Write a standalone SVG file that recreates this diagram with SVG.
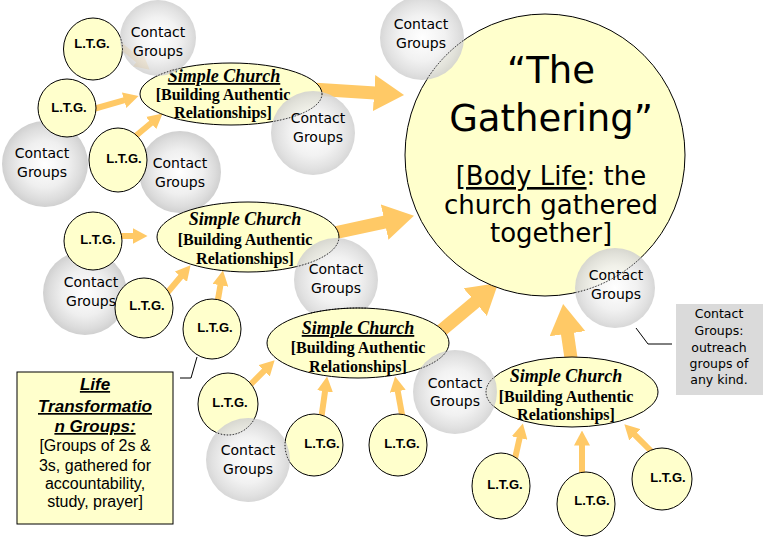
<svg xmlns="http://www.w3.org/2000/svg" width="769" height="544" viewBox="0 0 769 544">
<defs>
<radialGradient id="gray" cx="0.5" cy="0.5" r="0.5">
<stop offset="0" stop-color="#ffffff"/>
<stop offset="0.55" stop-color="#efefef"/>
<stop offset="0.85" stop-color="#dcdcdc"/>
<stop offset="1" stop-color="#d0d0d0"/>
</radialGradient>
<marker id="ahs" markerUnits="userSpaceOnUse" markerWidth="15" markerHeight="16" viewBox="0 0 15 16" refX="0.5" refY="8" orient="auto"><path d="M0,0 L15,8 L0,16 z" fill="#FFC966"/></marker>
<marker id="ahb" markerUnits="userSpaceOnUse" markerWidth="30" markerHeight="36" viewBox="0 0 30 36" refX="1" refY="18" orient="auto"><path d="M0,0 L30,18 L0,36 z" fill="#FFC966"/></marker>
<clipPath id="overClip">
<circle cx="158" cy="38" r="38"/>
<circle cx="313" cy="133" r="42"/>
<circle cx="422" cy="38" r="42"/>
<circle cx="336" cy="280" r="42"/>
<circle cx="615" cy="288" r="40"/>
<circle cx="455" cy="392" r="42"/>
<circle cx="248" cy="460" r="42"/>
</clipPath>
</defs>
<style>
.y{fill:#FFFFCC;stroke:#000;stroke-width:1}
.cg{fill:url(#gray)}
.cgo{fill:url(#gray);opacity:0.85}
.ct{font-family:"DejaVu Sans",sans-serif;font-size:14px;text-anchor:middle;fill:#000}
.lt{font-family:"Liberation Sans",Arial,sans-serif;font-weight:bold;font-size:13px;text-anchor:middle;fill:#000}
.sc{font-family:"Liberation Serif","Times New Roman",serif;font-weight:bold;font-size:16px;text-anchor:middle;fill:#000}
.sct{font-style:italic;font-size:18px}
.u{text-decoration:underline}
.sa{stroke:#FFC966;stroke-width:6;fill:none;marker-end:url(#ahs)}
.ba{stroke:#FFC966;stroke-width:13;fill:none;marker-end:url(#ahb)}
.co{stroke:#000;stroke-width:1;fill:none}
.dot{fill:none;stroke:#000;stroke-width:1;stroke-dasharray:1 2}
.gt{font-family:"DejaVu Sans",sans-serif;text-anchor:middle;fill:#000}
.lg{font-family:"Liberation Sans",Arial,sans-serif;text-anchor:middle;fill:#000}
</style>
<rect width="769" height="544" fill="#fff"/>

<g id="connectors">
<line class="sa" x1="115" y1="41" x2="138.5" y2="60.4"/>
<line class="sa" x1="90" y1="110" x2="124.6" y2="100.1"/>
<line class="sa" x1="132" y1="139" x2="151.5" y2="122.7"/>
<line class="sa" x1="118" y1="236" x2="133" y2="236"/>
<line class="sa" x1="162" y1="299" x2="181.2" y2="276.3"/>
<line class="sa" x1="217" y1="305" x2="220.5" y2="284.8"/>
<line class="sa" x1="246" y1="389" x2="264.4" y2="370.6"/>
<line class="sa" x1="321" y1="420" x2="325.1" y2="390.9"/>
<line class="sa" x1="403" y1="420" x2="397.7" y2="390.8"/>
<line class="sa" x1="514" y1="463" x2="519.7" y2="437.6"/>
<line class="sa" x1="582" y1="477" x2="582" y2="445"/>
<line class="sa" x1="654" y1="454" x2="634.6" y2="434.6"/>
<line class="ba" x1="312" y1="89" x2="375.1" y2="93.1"/>
<line class="ba" x1="325" y1="235" x2="385.6" y2="221.9"/>
<line class="ba" x1="430" y1="340" x2="476" y2="301.5"/>
<line class="ba" x1="572" y1="365" x2="567.3" y2="332.7"/>
<polyline class="co" points="197,357 191,378 180,378"/>
<polyline class="co" points="636,328 648,344 672,344"/>
</g>

<g id="contact2"><circle class="cg" cx="45" cy="164" r="43"/><text class="ct" x="42" y="158">Contact</text><text class="ct" x="42" y="177">Groups</text></g>
<g id="contact3"><circle class="cg" cx="180" cy="172" r="41"/><text class="ct" x="180" y="168">Contact</text><text class="ct" x="180" y="187">Groups</text></g>
<g id="contact6"><circle class="cg" cx="85" cy="293" r="42"/><text class="ct" x="91" y="287">Contact</text><text class="ct" x="91" y="306">Groups</text></g>

<g id="ltg1"><ellipse class="y" cx="93" cy="49" rx="29.5" ry="31"/><text class="lt" x="92" y="48">L.T.G.</text></g>
<g id="ltg2"><ellipse class="y" cx="67" cy="108" rx="29" ry="29"/><text class="lt" x="69" y="112">L.T.G.</text></g>
<g id="ltg3"><ellipse class="y" cx="118" cy="160" rx="29" ry="32"/><text class="lt" x="124" y="163">L.T.G.</text></g>
<g id="ltg4"><ellipse class="y" cx="93" cy="241" rx="29" ry="29"/><text class="lt" x="98" y="244">L.T.G.</text></g>
<g id="ltg5"><ellipse class="y" cx="144" cy="308" rx="29" ry="30"/><text class="lt" x="147" y="310">L.T.G.</text></g>
<g id="ltg6"><ellipse class="y" cx="212" cy="329" rx="29" ry="30"/><text class="lt" x="215" y="332">L.T.G.</text></g>

<g id="simple1"><ellipse class="y" cx="231" cy="94" rx="91" ry="31"/>
<text class="sc" x="224" y="82"><tspan class="sct u">Simple Church</tspan></text>
<text class="sc" x="223" y="100">[Building Authentic</text>
<text class="sc" x="223" y="118">Relationships]</text></g>
<g id="simple2"><ellipse class="y" cx="248" cy="237" rx="91" ry="35"/>
<text class="sc" x="245" y="225"><tspan class="sct">Simple Church</tspan></text>
<text class="sc" x="245" y="245">[Building Authentic</text>
<text class="sc" x="245" y="264">Relationships]</text></g>

<g id="gathering"><ellipse class="y" cx="545" cy="155" rx="140" ry="141"/>
<text class="gt" x="551" y="83" font-size="37">“The</text>
<text class="gt" x="551" y="131" font-size="37">Gathering”</text>
<text class="gt" x="551" y="185" font-size="26"><tspan class="u">[Body Life</tspan>: the</text>
<text class="gt" x="551" y="214" font-size="26">church gathered</text>
<text class="gt" x="551" y="242" font-size="26">together]</text></g>

<g id="contact1"><circle class="cgo" cx="158" cy="38" r="38"/><text class="ct" x="158" y="37">Contact</text><text class="ct" x="158" y="56">Groups</text></g>
<g id="contact4"><circle class="cgo" cx="313" cy="133" r="42"/><text class="ct" x="318" y="123">Contact</text><text class="ct" x="318" y="142">Groups</text></g>
<g id="contact5"><circle class="cgo" cx="422" cy="38" r="42"/><text class="ct" x="421" y="29">Contact</text><text class="ct" x="421" y="48">Groups</text></g>
<g id="contact7"><circle class="cgo" cx="336" cy="280" r="42"/><text class="ct" x="336" y="274">Contact</text><text class="ct" x="336" y="293">Groups</text></g>
<g id="contact8"><circle class="cgo" cx="615" cy="288" r="40"/><text class="ct" x="616" y="280">Contact</text><text class="ct" x="616" y="299">Groups</text></g>

<g id="simple3"><ellipse class="y" cx="358" cy="343" rx="91" ry="35"/>
<text class="sc" x="358" y="334"><tspan class="sct u">Simple Church</tspan></text>
<text class="sc" x="358" y="353">[Building Authentic</text>
<text class="sc" x="358" y="372">Relationships]</text></g>
<g id="simple4"><ellipse class="y" cx="572" cy="392" rx="86" ry="35"/>
<text class="sc" x="566" y="382"><tspan class="sct">Simple Church</tspan></text>
<text class="sc" x="566" y="402">[Building Authentic</text>
<text class="sc" x="566" y="420">Relationships]</text></g>

<g id="ltg7"><ellipse class="y" cx="228" cy="404" rx="30" ry="31"/><text class="lt" x="230" y="407">L.T.G.</text></g>
<g id="ltg8"><ellipse class="y" cx="314" cy="445" rx="29" ry="31"/><text class="lt" x="322" y="448">L.T.G.</text></g>
<g id="ltg9"><ellipse class="y" cx="398" cy="445" rx="29" ry="31"/><text class="lt" x="402" y="448">L.T.G.</text></g>
<g id="ltg10"><ellipse class="y" cx="501" cy="486" rx="29" ry="33"/><text class="lt" x="505" y="489">L.T.G.</text></g>
<g id="ltg11"><ellipse class="y" cx="586" cy="504" rx="29" ry="32"/><text class="lt" x="592" y="505">L.T.G.</text></g>
<g id="ltg12"><ellipse class="y" cx="662" cy="479" rx="30" ry="31"/><text class="lt" x="668" y="482">L.T.G.</text></g>

<g id="contact9"><circle class="cgo" cx="455" cy="392" r="42"/><text class="ct" x="455" y="388">Contact</text><text class="ct" x="455" y="406">Groups</text></g>
<g id="contact10"><circle class="cgo" cx="248" cy="460" r="42"/><text class="ct" x="248" y="455">Contact</text><text class="ct" x="248" y="474">Groups</text></g>

<g id="see-through" clip-path="url(#overClip)">
<ellipse class="dot" cx="93" cy="49" rx="29.5" ry="31"/>
<ellipse class="dot" cx="231" cy="94" rx="91" ry="31"/>
<ellipse class="dot" cx="248" cy="237" rx="91" ry="35"/>
<ellipse class="dot" cx="545" cy="155" rx="140" ry="141"/>
<ellipse class="dot" cx="358" cy="343" rx="91" ry="35"/>
<ellipse class="dot" cx="572" cy="392" rx="86" ry="35"/>
<ellipse class="dot" cx="228" cy="404" rx="30" ry="31"/>
<ellipse class="dot" cx="314" cy="445" rx="29" ry="31"/>
</g>

<g id="legend-ltg">
<rect x="17" y="372" width="156" height="152" fill="#FFFFCC" stroke="#000" stroke-width="1"/>
<text class="lg u" x="95" y="390" font-size="17" font-weight="bold" font-style="italic">Life</text>
<text class="lg u" x="95" y="412" font-size="17" font-weight="bold" font-style="italic">Transformatio</text>
<text class="lg u" x="95" y="432" font-size="17" font-weight="bold" font-style="italic">n Groups:</text>
<text class="lg" x="95" y="451" font-size="16">[Groups of 2s &amp;</text>
<text class="lg" x="95" y="471" font-size="16">3s, gathered for</text>
<text class="lg" x="95" y="489" font-size="16">accountability,</text>
<text class="lg" x="95" y="507" font-size="16">study, prayer]</text>
</g>

<g id="legend-contact">
<rect x="676" y="304" width="87" height="91" fill="#dadada"/>
<text class="gt" x="719" y="318" font-size="12.5" fill="#222">Contact</text>
<text class="gt" x="719" y="335" font-size="12.5" fill="#222">Groups:</text>
<text class="gt" x="719" y="352" font-size="12.5" fill="#222">outreach</text>
<text class="gt" x="719" y="368" font-size="12.5" fill="#222">groups of</text>
<text class="gt" x="719" y="384" font-size="12.5" fill="#222">any kind.</text>
</g>
</svg>
